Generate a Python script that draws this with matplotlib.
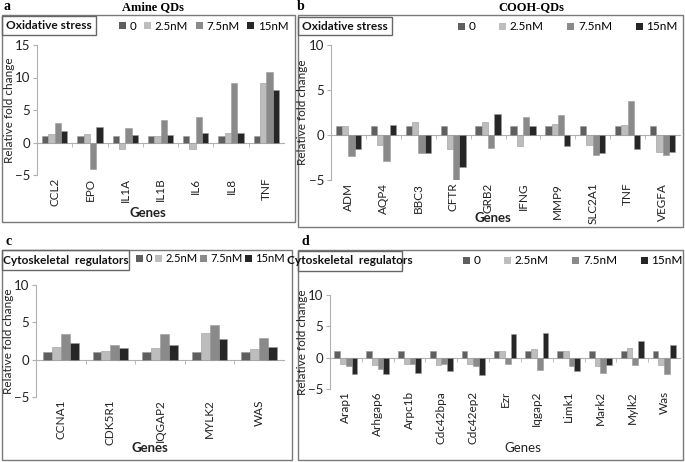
import matplotlib
matplotlib.use("Agg")
import matplotlib.pyplot as plt
from matplotlib.patches import Rectangle
import numpy as np

plt.rcParams['font.family'] = ['Lato', 'DejaVu Sans']

W, H = 685, 462
series = ["0", "2.5nM", "7.5nM", "15nM"]
colors = ["#5f5f5f", "#bdbdbd", "#8a8a8a", "#262626"]

genes_a = ["CCL2", "EPO", "IL1A", "IL1B", "IL6", "IL8", "TNF"]
a_0 = [1, 1, 1, 1, 1, 1, 1]
a_25 = [1.3, 1.3, -1.0, 1.0, -1.0, 1.4, 9.1]
a_75 = [3.0, -4.0, 2.2, 3.5, 4.0, 9.1, 10.9]
a_15 = [1.8, 2.4, 1.2, 1.2, 1.4, 1.5, 8.1]

genes_b = ["ADM", "AQP4", "BBC3", "CFTR", "GRB2", "IFNG", "MMP9", "SLC2A1", "TNF", "VEGFA"]
b_0 = [1, 1, 1, 1, 1, 1, 1, 1, 1, 1]
b_25 = [1.0, -1.1, 1.4, -1.5, 1.4, -1.2, 1.2, -1.1, 1.1, -1.9]
b_75 = [-2.3, -2.9, -2.0, -5.0, -1.4, 2.0, 2.2, -2.2, 3.8, -2.2]
b_15 = [-1.6, 1.1, -2.0, -3.5, 2.3, 1.0, -1.2, -2.0, -1.6, -1.9]

genes_c = ["CCNA1", "CDK5R1", "IQGAP2", "MYLK2", "WAS"]
c_0 = [1, 1, 1, 1, 1]
c_25 = [1.7, 1.2, 1.5, 3.6, 1.4]
c_75 = [3.5, 2.0, 3.5, 4.6, 2.9]
c_15 = [2.2, 1.5, 1.9, 2.8, 1.7]

genes_d = ["Arap1", "Arhgap6", "Arpc1b", "Cdc42bpa", "Cdc42ep2", "Ezr", "Iqgap2",
           "Limk1", "Mark2", "Mylk2", "Was"]
d_0 = [1, 1, 1, 1, 1, 1, 1, 1, 1, 1, 1]
d_25 = [-1.0, -1.2, -1.0, -1.1, -1.0, 1.1, 1.4, 1.1, -1.4, 1.5, -1.1]
d_75 = [-1.4, -1.8, -1.0, -1.0, -1.4, -1.0, -2.0, -1.3, -2.4, -1.2, -2.6]
d_15 = [-2.6, -2.6, -2.4, -2.1, -2.7, 3.7, 4.0, -2.1, -1.2, 2.6, 2.0]

fig = plt.figure(figsize=(W / 100, H / 100), dpi=100)


def fx(x):
    return x / W


def fy(y):
    return 1 - y / H


def box(x0, y0, x1, y1, lw=1.0, color="#7a7a7a"):
    fig.add_artist(Rectangle((fx(x0), fy(y1)), fx(x1 - x0), (y1 - y0) / H,
                             transform=fig.transFigure, fill=False,
                             edgecolor=color, linewidth=lw))


def panel(px, genes, data, ylim, xlbl_y, xlbl_x, ylbl_x, genes_bold=True,
          legend_pos=None, colspace=1.0, legsize=8.5):
    l, r, t, b = px
    ax = fig.add_axes([fx(l), fy(b), fx(r - l), (b - t) / H])
    n = len(genes)
    x = np.arange(n)
    w = 0.18
    for k, (vals, c) in enumerate(zip(data, colors)):
        ax.bar(x + (k - 1.5) * w, vals, w, color=c, edgecolor="#9a9a9a",
               linewidth=0.4, label=series[k], zorder=3)
    ax.set_xlim(-0.5, n - 0.5)
    ax.set_ylim(*ylim)
    ax.set_yticks(np.arange(ylim[0], ylim[1] + 0.1, 5))
    ax.spines['top'].set_visible(False)
    ax.spines['right'].set_visible(False)
    ax.spines['left'].set_color("#b0b0b0")
    ax.spines['bottom'].set_color("#b0b0b0")
    ax.spines['bottom'].set_position(('data', 0))
    ax.set_xticks([])
    ax.set_xticks(np.arange(n - 1) + 0.5, minor=True)
    ax.tick_params(axis='x', which='minor', length=3, color="#b0b0b0", direction='out')
    ax.tick_params(axis='y', length=3, color="#b0b0b0", labelsize=9.5,
                   labelcolor="#222222", pad=2)
    ax.patch.set_alpha(0)
    ybot = ylim[0] - (ylim[1] - ylim[0]) * 0.02
    for i, g in enumerate(genes):
        ax.text(i, ybot, g, rotation=90, ha='center', va='top', fontsize=8.5,
                color="#222222", clip_on=False)
    fig.text(fx(xlbl_x), fy(xlbl_y), "Genes", ha='center', va='center',
             fontsize=9.5, fontweight='bold' if genes_bold else 'normal', color="#222222")
    fig.text(fx(ylbl_x), fy((t + b) / 2), "Relative fold change", rotation=90,
             ha='center', va='center', fontsize=8.5, color="#222222")
    handles, labels = ax.get_legend_handles_labels()
    lx, ly = legend_pos
    leg = fig.legend(handles, labels, loc='center left', bbox_to_anchor=(fx(lx), fy(ly)),
                     ncol=4, frameon=False, fontsize=legsize, handlelength=0.6,
                     handleheight=0.6, handletextpad=0.3, columnspacing=colspace,
                     borderaxespad=0, borderpad=0)
    for h in leg.legend_handles:
        h.set_edgecolor("none")
    return ax


# panel frames
box(2, 15, 295, 222)
box(298, 15, 683, 227)
box(2, 250, 292, 460)
box(298, 250, 683, 460)

serif = ['Liberation Serif', 'DejaVu Serif']
fig.text(fx(3), fy(7), "a", family=serif, fontweight='bold', fontsize=10, va='center')
fig.text(fx(153), fy(7), "Amine QDs", family=serif, fontweight='bold', fontsize=9,
         ha='center', va='center')
fig.text(fx(297), fy(7), "b", family=serif, fontweight='bold', fontsize=10, va='center')
fig.text(fx(531), fy(7), "COOH-QDs", family=serif, fontweight='bold', fontsize=9,
         ha='center', va='center')
fig.text(fx(5), fy(241), "c", family=serif, fontweight='bold', fontsize=10, va='center')
fig.text(fx(301), fy(241), "d", family=serif, fontweight='bold', fontsize=10, va='center')


def catbox(x0, y0, x1, y1, label):
    box(x0, y0, x1, y1, lw=1.0, color="#666666")
    fig.text(fx((x0 + x1) / 2), fy((y0 + y1) / 2), label, ha='center', va='center',
             fontsize=8.6, fontweight='bold', color="#111111")


panel((37, 284, 45, 175), genes_a, [a_0, a_25, a_75, a_15], (-5, 15),
      213, 148, 10, legend_pos=(119, 26), colspace=0.7, legsize=8.3)
catbox(2, 16, 96, 35, "Oxidative stress")

panel((331, 680, 45, 180), genes_b, [b_0, b_25, b_75, b_15], (-5, 10),
      218, 493, 303, legend_pos=(458, 27), colspace=2.0)
catbox(298, 17, 392, 35, "Oxidative stress")

panel((36, 284, 285, 397), genes_c, [c_0, c_25, c_75, c_15], (-5, 10),
      448, 150, 9, legend_pos=(136, 259), colspace=0.25, legsize=8.0)
catbox(2, 250, 129, 270, "Cytoskeletal  regulators")

panel((330, 680, 295, 389), genes_d, [d_0, d_25, d_75, d_15], (-5, 10),
      448, 523, 303, genes_bold=False, legend_pos=(463, 261), colspace=2.0)
catbox(298, 251, 402, 271, "Cytoskeletal  regulators")

fig.savefig("out.png", dpi=100)
